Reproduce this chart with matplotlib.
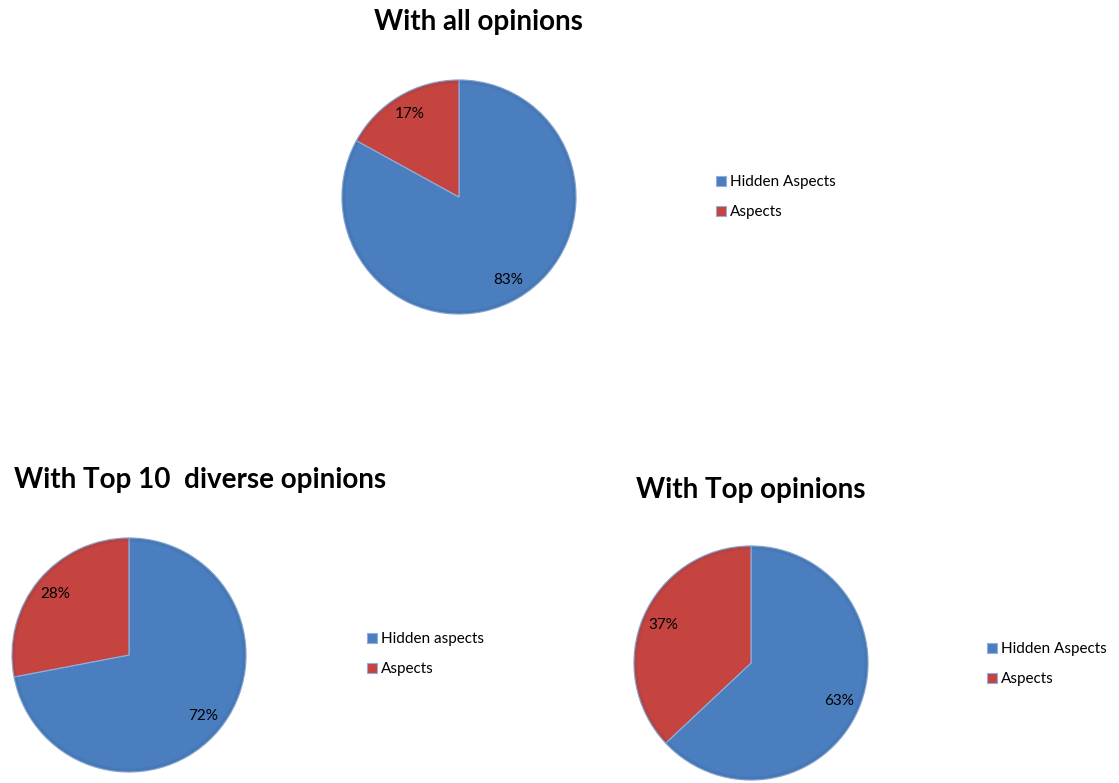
import numpy as np
import matplotlib
matplotlib.use('Agg')
import matplotlib.pyplot as plt
from matplotlib.patches import Circle

plt.rcParams['font.family'] = ['Lato', 'DejaVu Sans']

# data
titles = ['With all opinions', 'With Top 10  diverse opinions', 'With Top opinions']
legend_labels = [['Hidden Aspects', 'Aspects'],
                 ['Hidden aspects', 'Aspects'],
                 ['Hidden Aspects', 'Aspects']]
hidden_pct = [83, 72, 63]
aspect_pct = [17, 28, 37]

blue = '#4a7ebf'
red = '#c5443f'

W, H = 1119, 783
fig = plt.figure(figsize=(W / 100, H / 100), dpi=100)

# pixel layout: pie centre, radius, title pos, legend pos
R = 117
centres = [(459, 197), (129, 655), (751, 663)]
title_pos = [(478, 22), (200, 480), (751, 490)]
legend_pos = [(708, 197), (359, 654), (979, 664)]


def fx(x):
    return x / W


def fy(y):
    return 1 - y / H


for i in range(3):
    cx, cy = centres[i]
    ax = fig.add_axes([fx(cx - R), fy(cy + R), 2 * R / W, 2 * R / H])
    wedges, texts, autotexts = ax.pie(
        [hidden_pct[i], aspect_pct[i]],
        colors=[blue, red], startangle=90, counterclock=False,
        autopct='%d%%', pctdistance=0.82,
        wedgeprops=dict(edgecolor='#8fb0dc', linewidth=0.8, clip_on=False),
        textprops=dict(fontsize=11, color='black'))
    for w in wedges:
        w.set_clip_on(False)
    # soft darker rim
    for k, a in enumerate([0.10, 0.08, 0.06]):
        ax.add_patch(Circle((0, 0), 1 - k * 0.012, fill=False,
                            edgecolor='#1f3d66', linewidth=1.2, alpha=a,
                            clip_on=False))
    ax.set_xlim(-1, 1)
    ax.set_ylim(-1, 1)
    ax.set_aspect('equal')
    ax.axis('off')

    tx, ty = title_pos[i]
    fig.text(fx(tx), fy(ty), titles[i], ha='center', va='center',
             fontsize=20, fontweight='bold')

    lx, ly = legend_pos[i]
    fig.legend(wedges, legend_labels[i], loc='center left',
               bbox_to_anchor=(fx(lx), fy(ly)), frameon=False,
               fontsize=11, handlelength=0.65, handleheight=0.65,
               handletextpad=0.3, labelspacing=1.05, borderpad=0)

plt.savefig('out.png', dpi=100)
